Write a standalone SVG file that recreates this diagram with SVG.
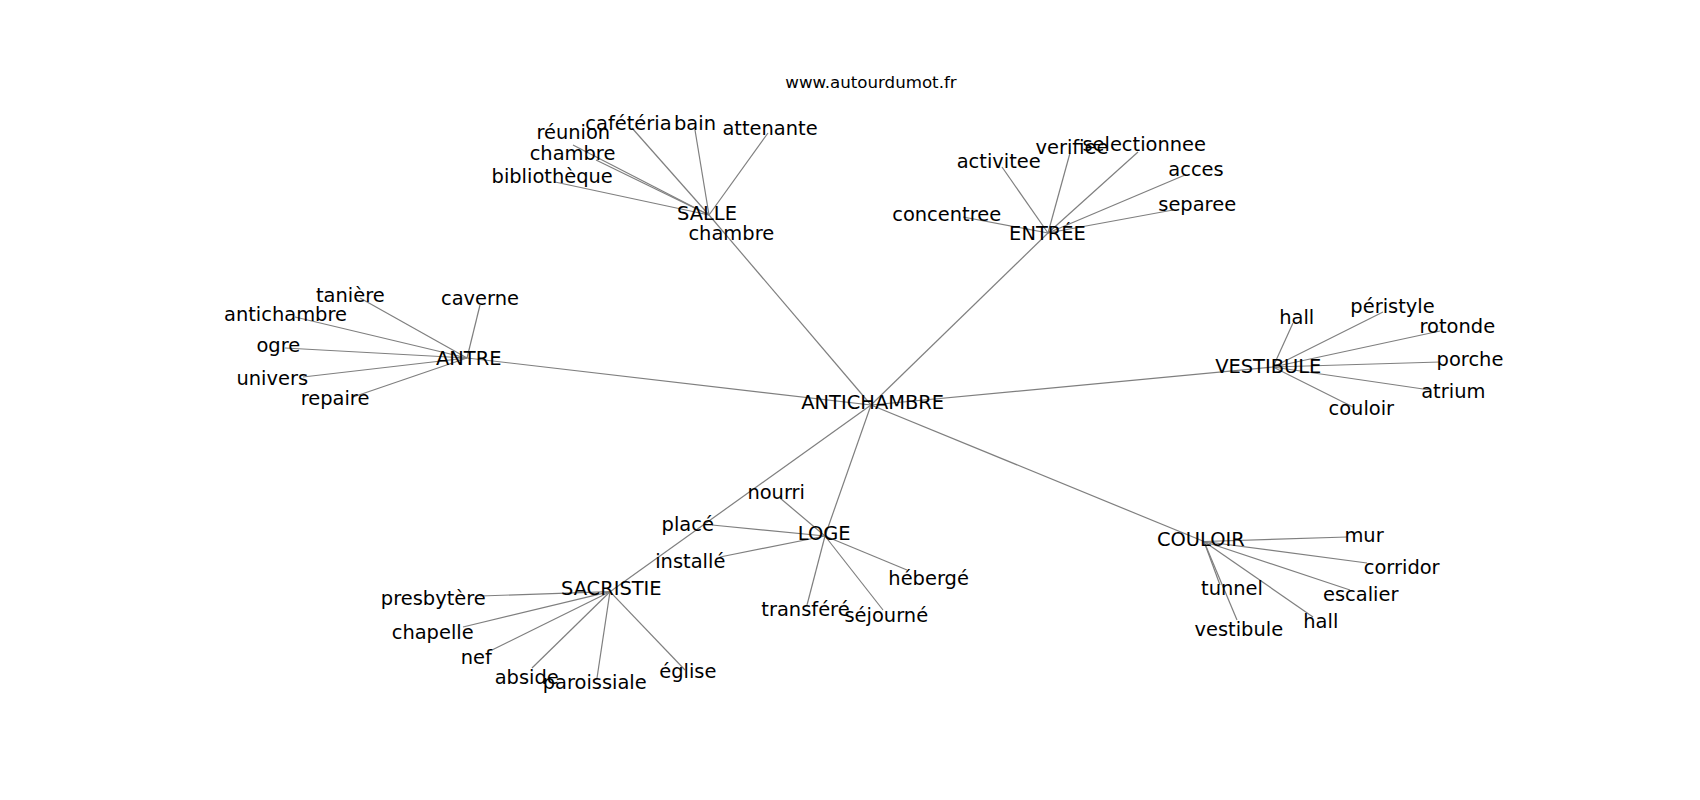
<svg xmlns="http://www.w3.org/2000/svg" width="1700" height="800" viewBox="0 0 1700 800">
<style>
.e{stroke:#7f7f7f;stroke-width:1.2;fill:none}
text{font-family:"DejaVu Sans","Liberation Sans",sans-serif;font-size:19.44px;fill:#000;text-anchor:middle}
.t{font-size:16.67px}
</style>
<rect width="1700" height="800" fill="#fff"/>
<g id="connectors">
<line class="e" x1="871" y1="405" x2="709" y2="215"/>
<line class="e" x1="871" y1="405" x2="1048" y2="233"/>
<line class="e" x1="871" y1="405" x2="467" y2="358"/>
<line class="e" x1="871" y1="405" x2="1273" y2="367"/>
<line class="e" x1="871" y1="405" x2="1204" y2="541.5"/>
<line class="e" x1="871" y1="405" x2="825" y2="536"/>
<line class="e" x1="871" y1="405" x2="610" y2="591.7"/>
<line class="e" x1="709" y1="215" x2="573" y2="145"/>
<line class="e" x1="709" y1="215" x2="596" y2="160"/>
<line class="e" x1="709" y1="215" x2="555" y2="182"/>
<line class="e" x1="709" y1="215" x2="632" y2="128"/>
<line class="e" x1="709" y1="215" x2="695" y2="130"/>
<line class="e" x1="709" y1="215" x2="768" y2="133"/>
<line class="e" x1="1048" y1="233" x2="963" y2="217"/>
<line class="e" x1="1048" y1="233" x2="1002" y2="167"/>
<line class="e" x1="1048" y1="233" x2="1070" y2="153"/>
<line class="e" x1="1048" y1="233" x2="1138" y2="152"/>
<line class="e" x1="1048" y1="233" x2="1185" y2="175"/>
<line class="e" x1="1048" y1="233" x2="1173" y2="210"/>
<line class="e" x1="467" y1="358" x2="360" y2="298"/>
<line class="e" x1="467" y1="358" x2="480" y2="305"/>
<line class="e" x1="467" y1="358" x2="295" y2="317"/>
<line class="e" x1="467" y1="358" x2="285" y2="348"/>
<line class="e" x1="467" y1="358" x2="303" y2="377"/>
<line class="e" x1="467" y1="358" x2="353" y2="397"/>
<line class="e" x1="1273" y1="367" x2="1293" y2="323"/>
<line class="e" x1="1273" y1="367" x2="1383" y2="312"/>
<line class="e" x1="1273" y1="367" x2="1440" y2="331"/>
<line class="e" x1="1273" y1="367" x2="1440" y2="362"/>
<line class="e" x1="1273" y1="367" x2="1430" y2="390"/>
<line class="e" x1="1273" y1="367" x2="1353" y2="407"/>
<line class="e" x1="1204" y1="541.5" x2="1347" y2="537"/>
<line class="e" x1="1204" y1="541.5" x2="1367" y2="563"/>
<line class="e" x1="1204" y1="541.5" x2="1350" y2="590"/>
<line class="e" x1="1204" y1="541.5" x2="1313" y2="617"/>
<line class="e" x1="1204" y1="541.5" x2="1220" y2="585"/>
<line class="e" x1="1204" y1="541.5" x2="1237" y2="620"/>
<line class="e" x1="825" y1="536" x2="780" y2="498"/>
<line class="e" x1="825" y1="536" x2="712" y2="525"/>
<line class="e" x1="825" y1="536" x2="720" y2="557"/>
<line class="e" x1="825" y1="536" x2="907" y2="570"/>
<line class="e" x1="825" y1="536" x2="807" y2="605"/>
<line class="e" x1="825" y1="536" x2="883" y2="610"/>
<line class="e" x1="610" y1="591.7" x2="480" y2="596"/>
<line class="e" x1="610" y1="591.7" x2="463" y2="627"/>
<line class="e" x1="610" y1="591.7" x2="492" y2="650"/>
<line class="e" x1="610" y1="591.7" x2="532" y2="668"/>
<line class="e" x1="610" y1="591.7" x2="597" y2="678"/>
<line class="e" x1="610" y1="591.7" x2="685" y2="670"/>
</g>
<g id="title"><text class="t" x="871" y="88">www.autourdumot.fr</text></g>
<g id="n-antichambre"><text x="872.7" y="409.3">ANTICHAMBRE</text></g>
<g id="n-salle"><text x="707" y="220">SALLE</text></g>
<g id="n-salle-chambre2"><text x="731.3" y="240">chambre</text></g>
<g id="n-reunion"><text x="573.3" y="139.3">réunion</text></g>
<g id="n-salle-chambre"><text x="572.5" y="160">chambre</text></g>
<g id="n-bibliotheque"><text x="552.2" y="183.3">bibliothèque</text></g>
<g id="n-cafeteria"><text x="628.5" y="130">cafétéria</text></g>
<g id="n-bain"><text x="695" y="130">bain</text></g>
<g id="n-attenante"><text x="770" y="135">attenante</text></g>
<g id="n-entree"><text x="1047.5" y="240">ENTRÉE</text></g>
<g id="n-concentree"><text x="946.7" y="221">concentree</text></g>
<g id="n-activitee"><text x="998.7" y="168.3">activitee</text></g>
<g id="n-verifiee"><text x="1072" y="154">verifiee</text></g>
<g id="n-selectionnee"><text x="1144.2" y="151">selectionnee</text></g>
<g id="n-acces"><text x="1196" y="175.7">acces</text></g>
<g id="n-separee"><text x="1197.2" y="210.7">separee</text></g>
<g id="n-antre"><text x="468.7" y="365">ANTRE</text></g>
<g id="n-taniere"><text x="350.3" y="302.3">tanière</text></g>
<g id="n-caverne"><text x="480" y="305">caverne</text></g>
<g id="n-antichambre-leaf"><text x="285.5" y="321">antichambre</text></g>
<g id="n-ogre"><text x="278.3" y="351.7">ogre</text></g>
<g id="n-univers"><text x="272.3" y="385">univers</text></g>
<g id="n-repaire"><text x="335" y="405">repaire</text></g>
<g id="n-vestibule"><text x="1268.3" y="373.3">VESTIBULE</text></g>
<g id="n-vest-hall"><text x="1296.7" y="324">hall</text></g>
<g id="n-peristyle"><text x="1392.5" y="313.3">péristyle</text></g>
<g id="n-rotonde"><text x="1457.3" y="333.3">rotonde</text></g>
<g id="n-porche"><text x="1470" y="366">porche</text></g>
<g id="n-atrium"><text x="1453.3" y="398.3">atrium</text></g>
<g id="n-vest-couloir"><text x="1361.3" y="415">couloir</text></g>
<g id="n-couloir"><text x="1200.8" y="546">COULOIR</text></g>
<g id="n-mur"><text x="1364" y="542.3">mur</text></g>
<g id="n-corridor"><text x="1401.7" y="574">corridor</text></g>
<g id="n-escalier"><text x="1360.7" y="600.7">escalier</text></g>
<g id="n-coul-hall"><text x="1320.8" y="627.7">hall</text></g>
<g id="n-tunnel"><text x="1232" y="595">tunnel</text></g>
<g id="n-coul-vestibule"><text x="1238.8" y="635.7">vestibule</text></g>
<g id="n-loge"><text x="824.2" y="540">LOGE</text></g>
<g id="n-nourri"><text x="776.2" y="499.3">nourri</text></g>
<g id="n-place"><text x="687.7" y="530.7">placé</text></g>
<g id="n-installe"><text x="690.3" y="568.3">installé</text></g>
<g id="n-heberge"><text x="928.6" y="585">hébergé</text></g>
<g id="n-transfere"><text x="805.5" y="615.7">transféré</text></g>
<g id="n-sejourne"><text x="886.3" y="621.7">séjourné</text></g>
<g id="n-sacristie"><text x="611.3" y="595">SACRISTIE</text></g>
<g id="n-presbytere"><text x="433.3" y="605">presbytère</text></g>
<g id="n-chapelle"><text x="432.7" y="639">chapelle</text></g>
<g id="n-nef"><text x="476.2" y="664.3">nef</text></g>
<g id="n-abside"><text x="526.7" y="684.3">abside</text></g>
<g id="n-paroissiale"><text x="594.7" y="689">paroissiale</text></g>
<g id="n-eglise"><text x="687.8" y="678.3">église</text></g>
</svg>
